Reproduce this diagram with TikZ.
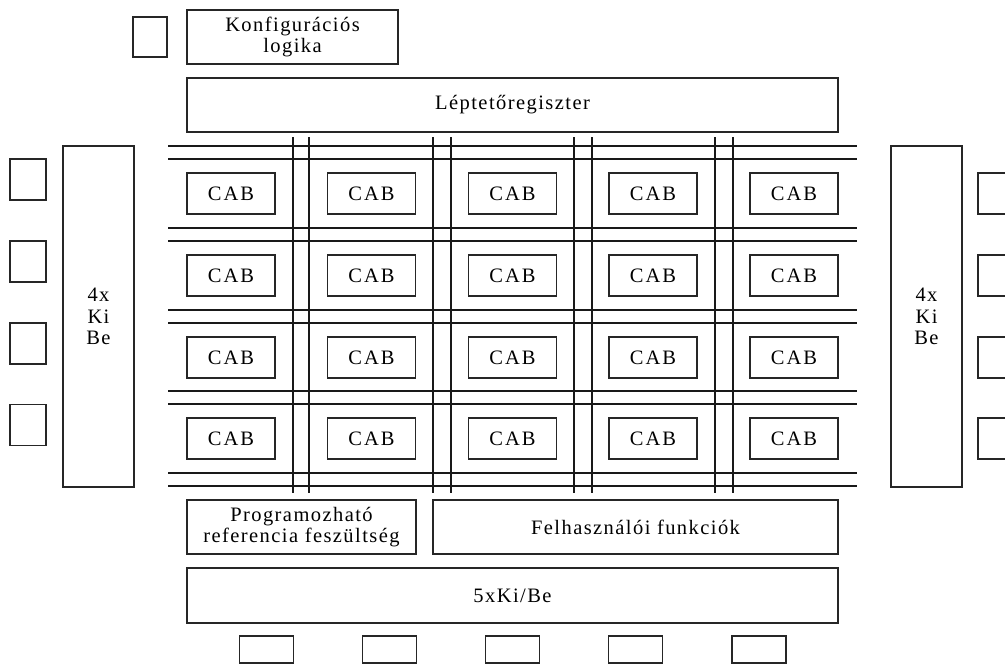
\documentclass[tikz,border=0pt]{standalone}
\usepackage{fontspec}
\setmainfont{Liberation Serif}[LetterSpace=7]
\newfontfamily\cabfont{Liberation Serif}[LetterSpace=10]
\begin{document}
\begin{tikzpicture}[x=1pt,y=-1pt,
  box/.style={draw=black!85, line width=1.3pt, inner sep=0pt, align=center,
    font=\fontsize{20.5}{21.5}\selectfont},
  cab/.style={box, minimum width=88pt, minimum height=41pt,
    font=\cabfont\fontsize{20.5}{21.5}\selectfont},
  pad/.style={draw=black!85, line width=1.3pt, inner sep=0pt},
  bus/.style={draw=black!90, line width=1.2pt}]
\useasboundingbox (0,0) rectangle (1005,664);

% configuration block and shift register
\node[pad, minimum width=34pt, minimum height=40pt] (cfgpad) at (150,37) {};
\node[box, minimum width=211pt, minimum height=54pt] (konf) at (292.5,37)
  {Konfigurációs\\logika};
\node[box, minimum width=651pt, minimum height=54pt] (lept) at (512.5,105)
  {Léptetőregiszter};

% routing buses between the cells
\foreach \y in {146,159,228,241,310,323,391,404,473,486}
  \draw[bus] (168,\y) -- (857,\y);
\foreach \x in {293,309,433,451,574,592,715,733}
  \draw[bus] (\x,137) -- (\x,493);

% 4 x 5 array of analogue cells
\foreach \cx [count=\i] in {231,371.5,512.5,653,794}
  \foreach \cy [count=\j] in {193.5,275.5,357.5,438.5}
    \node[cab] (cab-\j-\i) at (\cx,\cy) {CAB};

% left and right I/O columns
\node[box, minimum width=71pt, minimum height=341pt] (kibeL) at (98.5,316.5)
  {4x\\Ki\\Be};
\node[box, minimum width=71pt, minimum height=341pt] (kibeR) at (926.5,316.5)
  {4x\\Ki\\Be};
\foreach \y [count=\k] in {179.5,261.5,343.5,425}
  \node[pad, minimum width=36pt, minimum height=41pt] (padL\k) at (28,\y) {};
\foreach \y [count=\k] in {193.5,275.5,357.5,438.5}
  \node[pad, minimum width=36pt, minimum height=41pt] (padR\k) at (996,\y) {};

% bottom blocks
\node[box, minimum width=229pt, minimum height=54pt] (vref) at (301.5,527)
  {Programozható\\referencia feszültség};
\node[box, minimum width=405pt, minimum height=54pt] (func) at (635.5,527)
  {Felhasználói funkciók};
\node[box, minimum width=651pt, minimum height=55pt] (kibeB) at (512.5,595.5)
  {5xKi/Be};
\foreach \x [count=\k] in {266.5,389.5,512.5,635.5,759}
  \node[pad, minimum width=54pt, minimum height=27pt] (padB\k) at (\x,649.5) {};
\end{tikzpicture}
\end{document}
